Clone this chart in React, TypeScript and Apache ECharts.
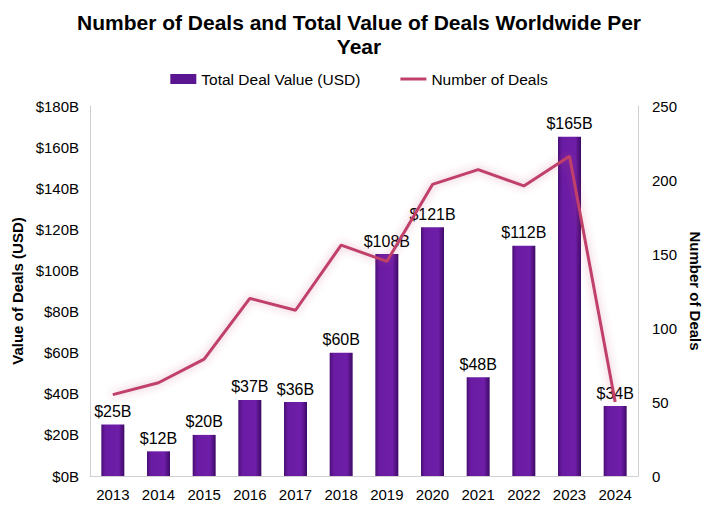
import React, { useEffect, useRef } from "react";
import * as echarts from "echarts";

const years = ["2013", "2014", "2015", "2016", "2017", "2018", "2019", "2020", "2021", "2022", "2023", "2024"];
const dealValues = [25, 12, 20, 37, 36, 60, 108, 121, 48, 112, 165, 34];
const dealCounts = [55, 63, 79, 120, 112, 156, 145, 197, 207, 196, 216, 50];

export default function App() {
  const ref = useRef<HTMLDivElement>(null);
  useEffect(() => {
    if (!ref.current) return;
    const chart = echarts.init(ref.current, null, { renderer: "svg" });
    const font = "Liberation Sans, Arial, sans-serif";
    const barGrad = new echarts.graphic.LinearGradient(0, 0, 1, 0, [
      { offset: 0, color: "#4a0f75" },
      { offset: 0.18, color: "#6a1ba3" },
      { offset: 0.75, color: "#6e1ea8" },
      { offset: 1, color: "#3e0a66" },
    ]);
    chart.setOption({
      animation: false,
      textStyle: { fontFamily: font },
      title: {
        text: "Number of Deals and Total Value of Deals Worldwide Per\nYear",
        left: "center",
        top: 5,
        textStyle: { fontSize: 21, fontWeight: "bold", color: "#000", lineHeight: 24, fontFamily: font },
      },
      legend: {
        top: 66,
        left: "center",
        itemGap: 40,
        itemWidth: 26,
        itemHeight: 10,
        textStyle: { fontSize: 15.5, color: "#000", fontFamily: font },
        data: [
          { name: "Total Deal Value (USD)", icon: "rect", itemStyle: { color: "#5a1590" } },
          { name: "Number of Deals", icon: "path://M0 0 H26 V3 H0 Z", itemStyle: { color: "#c0406a" } },
        ],
      },
      grid: { left: 90, right: 80, top: 106, bottom: 43 },
      xAxis: {
        type: "category",
        data: years,
        axisLine: { lineStyle: { color: "#d0d0d0" } },
        axisTick: { show: false },
        axisLabel: { fontSize: 15, color: "#000", margin: 11, fontFamily: font },
      },
      yAxis: [
        {
          type: "value",
          min: 0,
          max: 180,
          interval: 20,
          name: "Value of Deals (USD)",
          nameLocation: "middle",
          nameRotate: 90,
          nameGap: 64,
          nameTextStyle: { fontSize: 15, fontWeight: "bold", color: "#000", fontFamily: font },
          axisLine: { show: true, lineStyle: { color: "#d0d0d0" } },
          axisTick: { show: false },
          splitLine: { show: false },
          axisLabel: { fontSize: 15, color: "#000", margin: 11, formatter: (v: number) => `$${v}B`, fontFamily: font },
        },
        {
          type: "value",
          min: 0,
          max: 250,
          interval: 50,
          name: "Number of Deals",
          nameLocation: "middle",
          nameRotate: -90,
          nameGap: 50,
          nameTextStyle: { fontSize: 15, fontWeight: "bold", color: "#000", fontFamily: font },
          axisLine: { show: true, lineStyle: { color: "#d0d0d0" } },
          axisTick: { show: false },
          splitLine: { show: false },
          axisLabel: { fontSize: 15, color: "#000", margin: 14, fontFamily: font },
        },
      ],
      series: [
        {
          name: "Total Deal Value (USD)",
          type: "bar",
          data: dealValues,
          barWidth: 23,
          itemStyle: { color: barGrad },
          label: {
            show: true,
            position: "top",
            distance: 5,
            fontSize: 16,
            color: "#000",
            formatter: (p: any) => `$${p.value}B`,
            fontFamily: font,
          },
        },
        {
          name: "Number of Deals",
          type: "line",
          yAxisIndex: 1,
          data: dealCounts,
          symbol: "none",
          lineStyle: {
            color: "#c0406a",
            width: 3,
            shadowColor: "rgba(192,64,106,0.45)",
            shadowBlur: 8,
          },
          itemStyle: { color: "#c0406a" },
          z: 3,
        },
      ],
    });
    return () => chart.dispose();
  }, []);
  return <div ref={ref} style={{ width: 718, height: 519, position: "absolute", left: 0, top: 0 }} />;
}
